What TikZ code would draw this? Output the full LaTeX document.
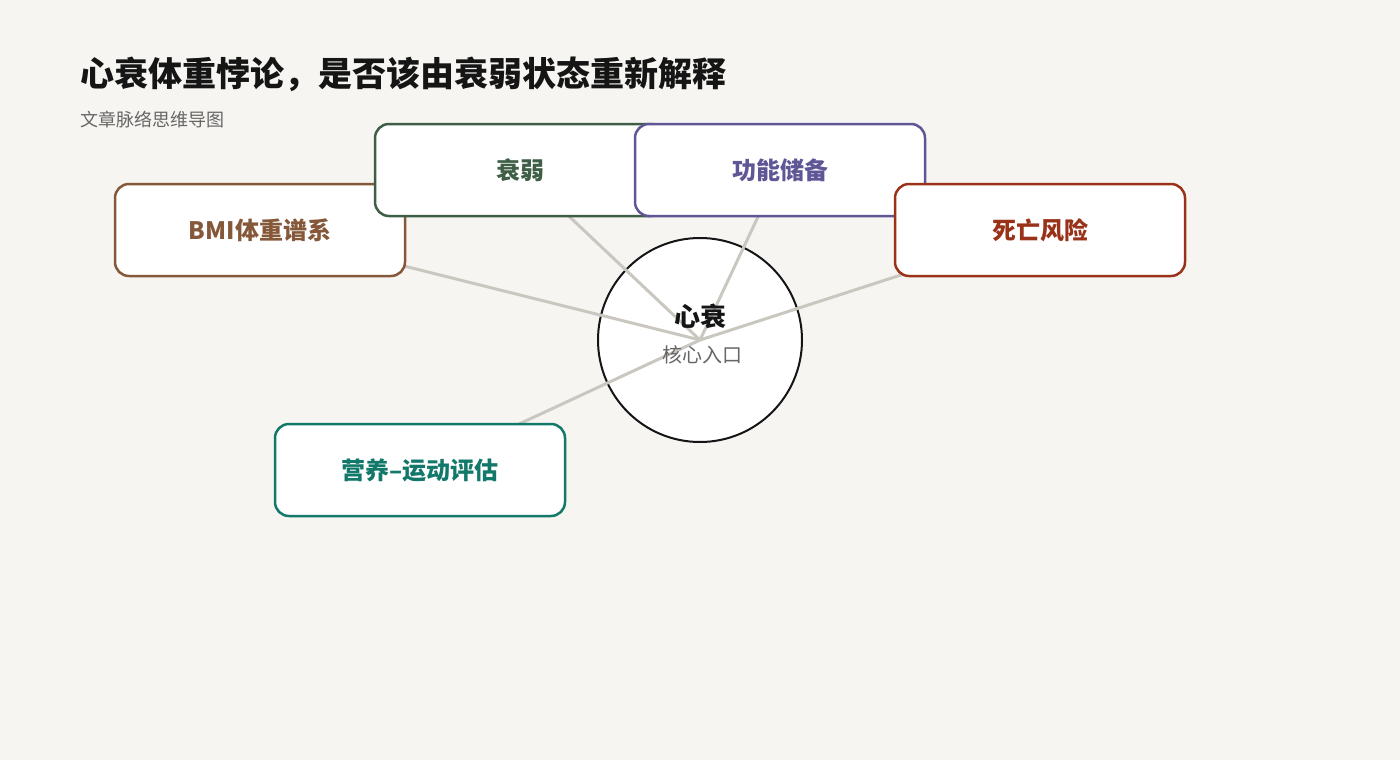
\documentclass[tikz,border=0pt]{standalone}
\usepackage{fontspec}
\setmainfont{Noto Sans CJK SC}
\usetikzlibrary{positioning}
\definecolor{bgc}{HTML}{F6F5F1}
\definecolor{linec}{HTML}{C9C7BF}
\definecolor{brownc}{HTML}{85583A}
\definecolor{greenc}{HTML}{3E5F45}
\definecolor{purplec}{HTML}{5F5696}
\definecolor{redc}{HTML}{993219}
\definecolor{tealc}{HTML}{12786A}
\definecolor{titlec}{HTML}{151515}
\definecolor{subc}{HTML}{666666}
\pgfdeclarelayer{bg}
\pgfdeclarelayer{lines}
\pgfsetlayers{bg,lines,main}
\tikzset{
  topic/.style={draw=#1, text=#1, fill=white, rounded corners=14pt, line width=2.5pt,
    minimum width=290pt, minimum height=92pt, font=\fontsize{24}{28}\selectfont\bfseries},
  link/.style={draw=linec, line width=3pt},
}
\begin{document}
\begin{tikzpicture}[x=1pt,y=-1pt]
\useasboundingbox (0,0) rectangle (1400,760);
\begin{pgfonlayer}{bg}
\fill[bgc] (0,0) rectangle (1400,760);
\node[circle, draw=titlec, fill=white, line width=2pt, minimum size=204pt, inner sep=0] (core) at (700,340) {};
\end{pgfonlayer}
\node[anchor=west, inner sep=0, text=titlec, font=\fontsize{34}{38}\selectfont\bfseries] (title) at (80,74) {心衰体重悖论，是否该由衰弱状态重新解释};
\node[anchor=west, inner sep=0, text=subc, font=\fontsize{18}{22}\selectfont] (sub) at (80,120) {文章脉络思维导图};
\node[topic=brownc] (bmi) at (260,230) {BMI体重谱系};
\node[topic=greenc] (frail) at (520,170) {衰弱};
\node[topic=purplec] (func) at (780,170) {功能储备};
\node[topic=redc] (death) at (1040,230) {死亡风险};
\node[topic=tealc] (nutri) at (420,470) {营养–运动评估};
\node[inner sep=0, text=titlec, font=\fontsize{26}{30}\selectfont\bfseries] (coretitle) at (700,316) {心衰};
\node[inner sep=0, text=subc, font=\fontsize{20}{24}\selectfont] (coresub) at (702,355) {核心入口};
\begin{pgfonlayer}{lines}
\draw[link] (core.center) -- (bmi.center);
\draw[link] (core.center) -- (frail.center);
\draw[link] (core.center) -- (func.center);
\draw[link] (core.center) -- (death.center);
\draw[link] (core.center) -- (nutri.center);
\end{pgfonlayer}
\end{tikzpicture}
\end{document}
